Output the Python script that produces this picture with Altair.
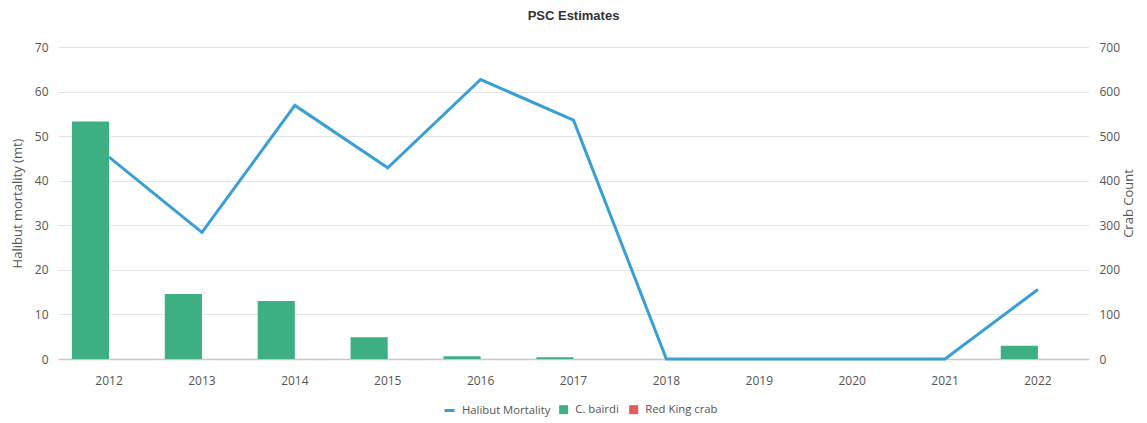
import altair as alt
import pandas as pd

years = ["2012", "2013", "2014", "2015", "2016", "2017", "2018", "2019", "2020", "2021", "2022"]
halibut_mortality = [45.3, 28.4, 56.9, 42.9, 62.7, 53.6, 0, 0, 0, 0, 15.6]
c_bairdi = [533, 146, 130, 49, 6, 4, 0, 0, 0, 0, 30]
red_king_crab = [0, 0, 0, 0, 0, 0, 0, 0, 0, 0, 0]

line_series = ["Halibut Mortality"]
bar_series = ["C. bairdi", "Red King crab"]
line_color = ["#3a9fd6"]
bar_colors = ["#3daf83", "#e55a5a"]

line_df = pd.DataFrame({"year": years, "value": halibut_mortality, "series": line_series[0]})
bar_df = pd.concat([
    pd.DataFrame({"year": years, "count": c_bairdi, "series": bar_series[0]}),
    pd.DataFrame({"year": years, "count": red_king_crab, "series": bar_series[1]}),
])

FONT = "Open Sans"

def legend(symbol, stroke_w, size, lx):
    return alt.Legend(
        title=None, orient="none", legendX=lx, legendY=357, direction="horizontal",
        symbolType=symbol, padding=0,
        labelFont=FONT, labelFontSize=11.3, labelColor="#555",
        symbolSize=size, symbolStrokeWidth=stroke_w, columnPadding=9, labelOffset=6,
    )

x_enc = alt.X(
    "year:N", sort=years, title=None,
    scale=alt.Scale(paddingInner=0.2, paddingOuter=0.15),
    axis=alt.Axis(labelAngle=0, ticks=False, domainColor="#c8c8c8", domainWidth=1.5,
                  labelFont=FONT, labelFontSize=12, labelColor="#555", labelPadding=16, grid=False),
)

bars = alt.Chart(bar_df).mark_bar().encode(
    x=x_enc,
    xOffset=alt.XOffset("series:N", sort=bar_series),
    y=alt.Y("count:Q", scale=alt.Scale(domain=[0, 700]),
            axis=alt.Axis(orient="right", title="Crab Count", values=list(range(0, 701, 100)),
                          grid=False, ticks=False, domain=False, labelFont=FONT, labelFontSize=12,
                          labelColor="#555", labelPadding=10, titleFont=FONT, titleFontSize=13,
                          titleFontWeight="normal", titleColor="#555", titlePadding=16,
                          titleAngle=270)),
    color=alt.Color("series:N", scale=alt.Scale(domain=bar_series, range=bar_colors),
                    legend=legend("square", 0, 81, 500)),
)

line = alt.Chart(line_df).mark_line(strokeWidth=3).encode(
    x=x_enc,
    y=alt.Y("value:Q", scale=alt.Scale(domain=[0, 70]),
            axis=alt.Axis(orient="left", title="Halibut mortality (mt)", values=list(range(0, 71, 10)),
                          grid=True, gridColor="#e4e4e4", ticks=False, domain=False, labelFont=FONT,
                          labelFontSize=12, labelColor="#555", labelPadding=10, titleFont=FONT,
                          titleFontSize=13, titleFontWeight="normal", titleColor="#555", titlePadding=10)),
    color=alt.Color("series:N", scale=alt.Scale(domain=line_series, range=line_color),
                    legend=legend("stroke", 3, 100, 385)),
)

chart = alt.layer(line, bars).resolve_scale(y="independent", color="independent").resolve_legend(
    color="independent"
).properties(
    width=1031, height=312,
    autosize=alt.AutoSizeParams(type="none"),
    padding={"left": 50, "right": 50, "top": 39, "bottom": 59},
    title=alt.Title("PSC Estimates", font="Liberation Sans", fontSize=13, fontWeight="bold",
                    color="#333", offset=18, anchor="middle"),
).configure_view(stroke=None)

chart.save("out.html", embed_options={"renderer": "svg", "actions": False})
